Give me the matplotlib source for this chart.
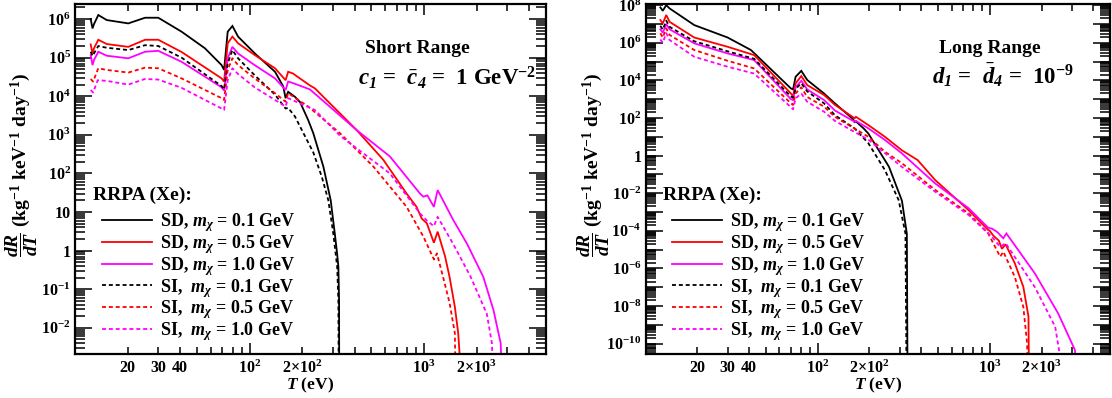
import matplotlib
matplotlib.use("Agg")
import matplotlib.pyplot as plt
from matplotlib.ticker import FixedLocator, FuncFormatter, LogLocator, NullFormatter
import numpy as np

# ---------------- data: Short Range (left panel) ----------------
sr_T_sd01 = [12.3, 12.6, 12.85, 13.6, 15.2, 20.2, 25.2, 30.0, 40.8, 55.5, 69.2, 71.5, 75.0, 79.8, 86.0,
             107, 140, 156, 161, 166.5, 182, 195, 217, 232, 265, 292, 308, 318, 323, 326, 327]
sr_R_sd01 = [1.0e6, 5.7e5, 7.4e5, 1.27e6, 9.4e5, 7.7e5, 1.08e6, 1.08e6, 4.7e5, 1.75e5, 6.4e4, 4.8e4, 4.7e5, 6.6e5, 3.5e5,
             1.3e5, 4.3e4, 1.8e4, 8.9e3, 1.3e4, 9.7e3, 7.0e3, 2.4e3, 1.1e3, 150, 20, 2.8, 0.8, 0.38, 0.05, 1e-5]

sr_T_sd05 = [12.3, 12.6, 12.85, 13.6, 15.2, 20.2, 25.2, 30.0, 40.8, 69.2, 71.5, 75.0, 79.8, 86.0, 107, 140,
             161, 166.5, 177, 222, 237, 411, 585, 795, 906, 970, 1038, 1139, 1197, 1320, 1400, 1502, 1570, 1600, 1607]
sr_R_sd05 = [2.2e5, 1.28e5, 1.75e5, 2.9e5, 2.25e5, 1.9e5, 2.9e5, 2.9e5, 1.4e5, 2.9e4, 2.4e4, 2.35e5, 3.5e5, 2.35e5, 1.17e5, 5.3e4,
             2.6e4, 4.3e4, 3.9e4, 1.9e4, 1.6e4, 1.33e3, 224, 30, 13.6, 6.8, 5.1, 1.6, 3.1, 0.71, 0.21, 0.035, 0.0073, 0.002, 1e-5]

sr_T_sd10 = [12.3, 12.6, 12.85, 13.6, 15.2, 20.2, 25.2, 30.0, 40.8, 69.2, 71.5, 75.0, 79.8, 86.0, 107, 140,
             161, 166.5, 177, 222, 411, 637, 949, 992, 1045, 1139, 1197, 1468, 1765, 2185, 2500, 2750, 2870]
sr_R_sd10 = [1.17e5, 6.4e4, 8.7e4, 1.42e5, 1.12e5, 9.6e4, 1.42e5, 1.5e5, 7.8e4, 1.7e4, 1.4e4, 9.6e4, 1.9e5, 1.28e5, 6.4e4, 2.9e4,
             1.45e4, 2.4e4, 2.2e4, 1.5e4, 1.33e3, 276, 30, 25, 27, 13.6, 37, 6.3, 1.5, 0.21, 0.029, 0.004, 1e-5]

sr_T_si01 = [12.3, 12.6, 13.6, 15.2, 20.2, 25.2, 30.0, 40.8, 69.2, 71.5, 75.0, 79.8, 86.0, 107, 140, 161, 166.5,
             182, 200, 232, 260, 283, 302, 318, 323, 325.5]
sr_R_si01 = [1.42e5, 1.1e5, 2.0e5, 1.8e5, 1.57e5, 2.1e5, 2.0e5, 1.0e5, 1.83e4, 1.5e4, 7.1e4, 1.57e5, 9.6e4, 3.5e4, 1.1e4, 4.8e3, 5.0e3,
             3.0e3, 1.3e3, 350, 80, 20, 2.8, 0.38, 0.05, 1e-5]

sr_T_si05 = [12.3, 12.7, 13.6, 15.2, 20.2, 25.2, 30.0, 40.8, 69.2, 71.5, 75.0, 79.8, 86.0, 107, 140, 161, 166.5,
             217, 330, 513, 795, 992, 1140, 1185, 1285, 1400, 1502, 1535]
sr_R_si05 = [2.8e4, 2.4e4, 5.3e4, 4.8e4, 4.1e4, 5.5e4, 5.3e4, 2.9e4, 8.9e3, 8.0e3, 4.8e4, 9.6e4, 6.4e4, 2.9e4, 1.2e4, 7.2e3, 1.2e4,
             5.4e3, 1.1e3, 150, 13.6, 2.3, 0.59, 0.85, 0.21, 0.045, 0.0073, 1e-5]

sr_T_si10 = [12.3, 12.7, 13.5, 15.2, 20.2, 25.2, 30.0, 40.8, 69.2, 71.5, 75.0, 79.8, 86.0, 107, 140, 161, 166.5,
             237, 330, 637, 949, 1038, 1139, 1197, 1468, 1850, 2290, 2450, 2550]
sr_R_si10 = [1.45e4, 1.25e4, 2.6e4, 2.5e4, 2.0e4, 2.8e4, 2.7e4, 1.65e4, 4.8e3, 4.4e3, 2.6e4, 5.3e4, 3.75e4, 1.7e4, 8e3, 5.4e3, 8.9e3,
             4.4e3, 950, 100, 9.2, 6, 4.3, 7.5, 1.5, 0.21, 0.023, 0.004, 1e-5]

# ---------------- data: Long Range (right panel) ----------------
lr_T_sd01 = [12.2, 12.6, 13.2, 13.8, 19.2, 30, 41, 70, 72, 74.5, 80.4, 87, 109, 126, 160, 164, 167, 185, 197,
             246, 260, 309, 330, 334]
lr_R_sd01 = [7.6e7, 5e7, 1e8, 6.7e7, 8.7e6, 1.9e6, 4.1e5, 3.7e3, 3.3e3, 1.55e4, 3.2e4, 1.05e4, 2e3, 600, 90, 60, 65, 28, 15,
             0.57, 0.25, 4e-3, 7e-5, 1e-14]

lr_T_sd05 = [12.2, 12.6, 13.2, 13.8, 19.2, 30, 42.8, 70, 72, 74.5, 80.4, 87, 109, 126, 164, 167, 197, 246, 309, 381,
             482, 753, 980, 1000, 1050, 1130, 1177, 1237, 1400, 1568, 1680, 1698]
lr_R_sd05 = [1.6e7, 1.07e7, 3e7, 1.3e7, 1.9e6, 6.1e5, 2.2e5, 2e3, 1.4e3, 6.9e3, 1.7e4, 5.6e3, 1.66e3, 500, 96, 115, 42, 10, 1.9, 0.58,
             0.05, 1.26e-3, 1.1e-4, 1.0e-4, 5.5e-5, 3e-5, 1.1e-5, 1.9e-5, 1.85e-6, 1.05e-7, 2.7e-9, 1e-14]

lr_T_sd10 = [12.2, 12.6, 13.2, 13.8, 19.2, 30, 42.8, 70, 72, 74.5, 80.4, 87, 109, 126, 164, 167, 197, 246, 309,
             482, 753, 980, 1030, 1100, 1200, 1250, 1830, 2500, 3130, 3200]
lr_R_sd10 = [5.2e6, 3.4e6, 9.9e6, 5.2e6, 9.3e5, 2.7e5, 1.2e5, 1.0e3, 9e2, 4.3e3, 9.5e3, 3.3e3, 9e2, 250, 63, 70, 28, 6.8, 1.3,
             0.033, 1.6e-3, 1.45e-4, 1.3e-4, 9e-5, 4e-5, 7.2e-5, 5.4e-7, 4e-9, 4.5e-11, 1e-14]

lr_T_si01 = [12.2, 12.6, 13.2, 13.8, 19.2, 30, 42.8, 70, 72, 74.5, 80.4, 87, 109, 126, 164, 197, 246, 296, 324, 330]
lr_R_si01 = [8e6, 5e6, 1.5e7, 7e6, 1.2e6, 3.5e5, 1.4e5, 1.4e3, 1.2e3, 3.5e3, 7e3, 2.6e3, 6e2, 140, 28, 4.6, 0.17, 4.2e-3, 7e-5, 1e-14]

lr_T_si05 = [12.2, 12.6, 13.2, 13.8, 19.2, 30, 42.8, 70, 72, 74.5, 80.4, 87, 109, 126, 197, 246, 309, 482, 753, 980,
             1150, 1200, 1400, 1568, 1650, 1670]
lr_R_si05 = [3.2e6, 1.9e6, 5.8e6, 2.6e6, 4.1e5, 1.1e5, 4.3e4, 600, 490, 2e3, 4.3e3, 1.3e3, 400, 115, 10, 1.6, 0.39, 0.015, 8.5e-4, 7.2e-5,
             4.2e-6, 7.7e-6, 3.5e-7, 9e-9, 1e-10, 1e-14]

lr_T_si10 = [12.2, 12.6, 13.2, 13.8, 19.2, 30, 42.8, 70, 72, 74.5, 80.4, 87, 109, 126, 197, 309, 482, 753, 1030, 1150,
             1237, 1830, 2400, 2950]
lr_R_si10 = [1.5e6, 1e6, 3.2e6, 1.4e6, 1.8e5, 5.3e4, 2.3e4, 370, 290, 1.1e3, 2e3, 730, 215, 70, 7, 0.25, 0.012, 7e-4, 4.8e-5, 1.4e-5,
             2.2e-5, 1e-7, 8e-10, 1e-14]

legend_labels = ["SD, $m_\\chi$ = 0.1 GeV", "SD, $m_\\chi$ = 0.5 GeV", "SD, $m_\\chi$ = 1.0 GeV",
                 "SI,  $m_\\chi$ = 0.1 GeV", "SI,  $m_\\chi$ = 0.5 GeV", "SI,  $m_\\chi$ = 1.0 GeV"]
xtick_labelled = {20: "20", 30: "30", 40: "40", 100: "$10^{2}$", 200: "2$\\times$$10^{2}$",
                  1000: "$10^{3}$", 2000: "2$\\times$$10^{3}$"}

# ---------------- style ----------------
plt.rcParams['font.family'] = ['Liberation Serif', 'DejaVu Serif']
plt.rcParams['font.weight'] = 'bold'
plt.rcParams['axes.labelweight'] = 'bold'
plt.rcParams['mathtext.fontset'] = 'custom'
plt.rcParams['mathtext.rm'] = 'Liberation Serif:bold'
plt.rcParams['mathtext.it'] = 'Liberation Serif:bold:italic'
plt.rcParams['mathtext.bf'] = 'Liberation Serif:bold'
plt.rcParams['mathtext.sf'] = 'Liberation Serif:bold:italic'
plt.rcParams['axes.linewidth'] = 1.6

colors = ['black', '#ff0000', '#ff00ff']
dash = (0, (2.2, 1.6))

fig = plt.figure(figsize=(11.12, 3.98), dpi=100)
axL = fig.add_axes([75 / 1112, 44 / 398, (546 - 75) / 1112, 350 / 398])
axR = fig.add_axes([645.5 / 1112, 44 / 398, (1110 - 645.5) / 1112, 350 / 398])


def xfmt(v, pos):
    for k, s in xtick_labelled.items():
        if abs(v - k) < 1e-6 * k:
            return s
    return ""


def yfmt_factory(step):
    def f(v, pos):
        n = int(round(np.log10(v)))
        if n % step != 0:
            return ""
        if n == 0:
            return "1"
        if n == 1 and step == 1:
            return "10"
        return "$10^{%d}$" % n
    return f


def style_axes(ax, ylim, ystep):
    ax.set_xscale('log')
    ax.set_yscale('log')
    ax.set_xlim(10, 5000)
    ax.set_ylim(*ylim)
    ax.xaxis.set_major_locator(FixedLocator([10, 100, 1000]))
    ax.xaxis.set_minor_locator(FixedLocator([v * d for d in (10, 100, 1000) for v in range(2, 10) if v * d < 5000]))
    ax.xaxis.set_major_formatter(FuncFormatter(xfmt))
    ax.xaxis.set_minor_formatter(FuncFormatter(xfmt))
    ax.yaxis.set_major_locator(LogLocator(base=10, subs=(1.0,), numticks=40))
    ax.yaxis.set_minor_locator(LogLocator(base=10, subs=np.arange(2, 10), numticks=40))
    ax.yaxis.set_major_formatter(FuncFormatter(yfmt_factory(ystep)))
    ax.yaxis.set_minor_formatter(NullFormatter())
    ax.tick_params(which='both', direction='in', top=True, right=True, labelsize=11.5, width=1.1)
    ax.tick_params(axis='x', which='major', length=8, pad=4)
    ax.tick_params(axis='x', which='minor', length=5, pad=4)
    ax.tick_params(axis='y', which='major', length=12, pad=3)
    ax.tick_params(axis='y', which='minor', length=7)
    ax.set_xlabel("$T$ (eV)", fontsize=12.5, labelpad=-1)
    ax.set_ylabel("$\\dfrac{dR}{dT}$ (kg$^{-1}$ keV$^{-1}$ day$^{-1}$)", fontsize=14)
    ax.yaxis.label.set_verticalalignment('center')


def draw(ax, sets):
    handles = []
    for i, (T, R) in enumerate(sets[:3]):
        h, = ax.plot(T, R, color=colors[i], lw=1.3, solid_joinstyle='miter')
        handles.append(h)
    for i, (T, R) in enumerate(sets[3:]):
        h, = ax.plot(T, R, color=colors[i], lw=1.3, linestyle=dash)
        handles.append(h)
    return handles


hL = draw(axL, [(sr_T_sd01, sr_R_sd01), (sr_T_sd05, sr_R_sd05), (sr_T_sd10, sr_R_sd10),
                (sr_T_si01, sr_R_si01), (sr_T_si05, sr_R_si05), (sr_T_si10, sr_R_si10)])
hR = draw(axR, [(lr_T_sd01, lr_R_sd01), (lr_T_sd05, lr_R_sd05), (lr_T_sd10, lr_R_sd10),
                (lr_T_si01, lr_R_si01), (lr_T_si05, lr_R_si05), (lr_T_si10, lr_R_si10)])

style_axes(axL, (2.1e-3, 2.45e6), 1)
style_axes(axR, (2.8e-11, 1.15e8), 2)

for ax, hs in ((axL, hL), (axR, hR)):
    ax.yaxis.set_label_coords(-0.112, 0.54)
    ax.text(0.038, 0.452, "RRPA (Xe):", transform=ax.transAxes, fontsize=14, va='center', ha='left')
    ax.legend(hs, legend_labels, loc='lower left', bbox_to_anchor=(0.058, 0.031), frameon=False,
              fontsize=13, handlelength=2.75, handletextpad=0.45, labelspacing=-0.06, borderpad=0, borderaxespad=0)

axL.text(0.727, 0.874, "Short Range", transform=axL.transAxes, fontsize=14, ha='center', va='center')
axL.text(0.79, 0.79, "$c_{\\mathsf{1}}$ =  $\\bar{c}_{\\mathsf{4}}$ =  1 GeV$^{-2}$", transform=axL.transAxes,
         fontsize=16.5, ha='center', va='center')
axR.text(0.742, 0.874, "Long Range", transform=axR.transAxes, fontsize=14, ha='center', va='center')
axR.text(0.77, 0.797, "$d_{\\mathsf{1}}$ =  $\\bar{d}_{\\mathsf{4}}$ =  10$^{-9}$", transform=axR.transAxes,
         fontsize=16.5, ha='center', va='center')

fig.savefig("out.png", dpi=100)
